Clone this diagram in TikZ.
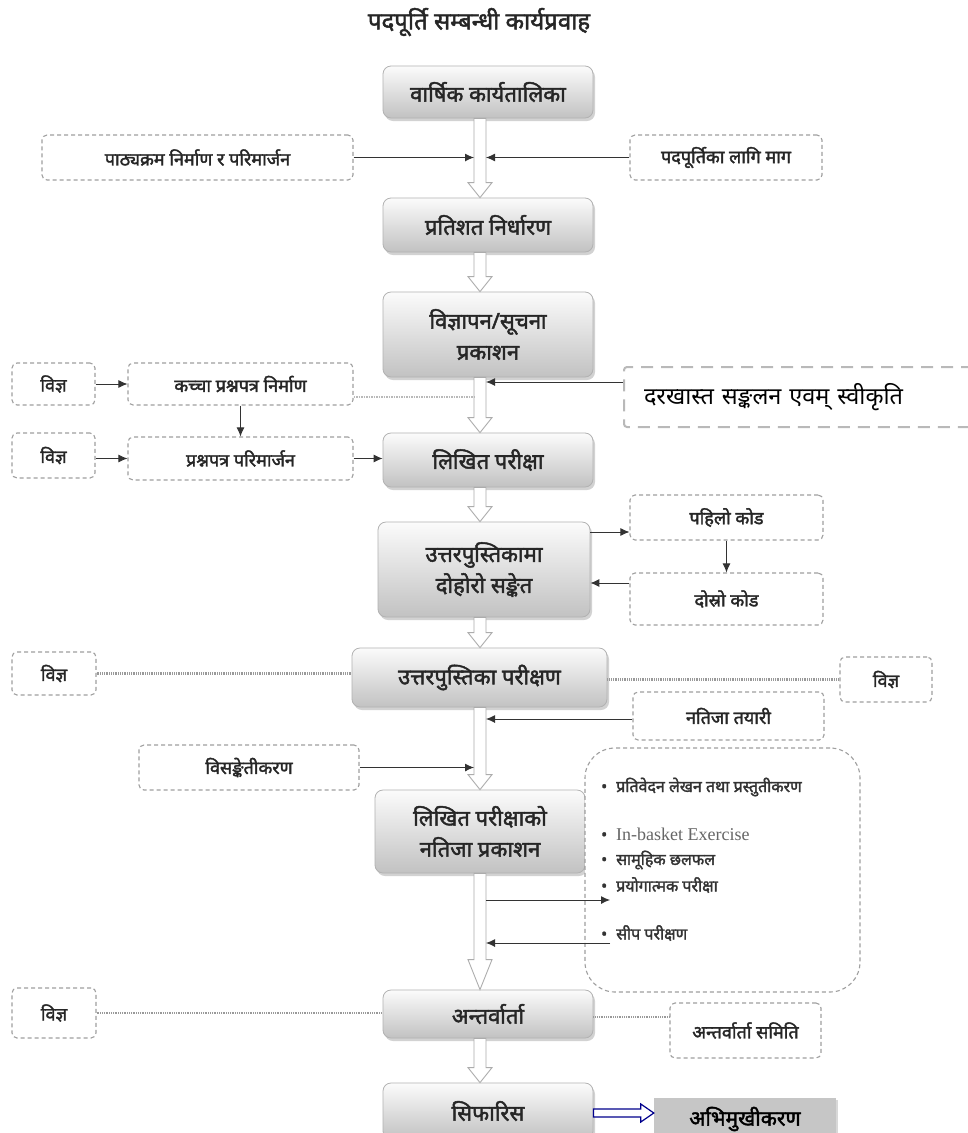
\documentclass[tikz,border=0pt]{standalone}
\usepackage{fontspec}
\newfontfamily\dev[Script=Devanagari]{Noto Sans}
\newfontfamily\devb[Script=Devanagari,FakeBold=2]{Noto Sans}
\newfontfamily\serifen{Liberation Serif}
\usetikzlibrary{arrows.meta,calc,shadows}
\newcommand\hollowarr[3][15pt]{%
  \path[hollow] let \p1=(#2), \p2=(#3) in
    (\x1-6pt,\y1) -- (\x1-6pt,\y2+#1) -- (\x1-12pt,\y2+#1) -- (\x1,\y2)
    -- (\x1+12pt,\y2+#1) -- (\x1+6pt,\y2+#1) -- (\x1+6pt,\y1) -- cycle;}
\newcommand\hollowh[2]{%
  \path[bluearr] let \p1=(#1), \p2=(#2) in
    (\x1,\y1+4pt) -- (\x2-13pt,\y1+4pt) -- (\x2-13pt,\y1+9pt) -- (\x2,\y1)
    -- (\x2-13pt,\y1-9pt) -- (\x2-13pt,\y1-4pt) -- (\x1,\y1-4pt) -- cycle;}
\begin{document}
\begin{tikzpicture}[x=1pt,y=-1pt,
 mainbox/.style={draw=gray!60, line width=0.8pt, rounded corners=8pt,
   top color=gray!3, bottom color=gray!48,
   drop shadow={shadow xshift=2pt,shadow yshift=-3pt,opacity=0.35},
   align=center, font=\devb\fontsize{22}{31}\selectfont, text=black!85, inner sep=0pt},
 dbox/.style={draw=gray!75, line width=1.1pt, dash pattern=on 4pt off 3pt, rounded corners=5pt,
   fill=white, align=center, font=\devb\fontsize{18}{21}\selectfont, text=black!85, inner sep=0pt},
 hollow/.style={draw=gray!65, line width=0.9pt, fill=white},
 bluearr/.style={draw=blue!55!black, line width=1.2pt, fill=white},
 arr/.style={-{Latex[length=9pt,width=8pt]}, line width=0.9pt, draw=black!80},
 dotl/.style={draw=gray!80, line width=2.6pt, dash pattern=on 1pt off 0.8pt},
 dotthin/.style={draw=gray!55, line width=1.5pt, dash pattern=on 1.5pt off 1pt},
 bul/.style={anchor=west, font=\devb\fontsize{16}{18}\selectfont, text=black!80, inner sep=0pt}
]
\useasboundingbox (0,0) rectangle (967,1133);
\fill[white] (0,0) rectangle (967,1133);

\coordinate (stem) at (480,0);
\coordinate (stemL) at (474,0);
\coordinate (stemR) at (486,0);

% title
\node[font=\devb\fontsize{24}{28}\selectfont, text=black!85] (title) at (479,22) {पदपूर्ति सम्बन्धी कार्यप्रवाह};

% main boxes
\node[mainbox, minimum width=210pt, minimum height=52pt] (b1) at (488,92) {वार्षिक कार्यतालिका};
\node[mainbox, minimum width=210pt, minimum height=54pt] (b2) at (488,225) {प्रतिशत निर्धारण};
\node[mainbox, minimum width=210pt, minimum height=85pt] (b3) at (488,334.5) {विज्ञापन/सूचना\\प्रकाशन};
\node[mainbox, minimum width=210pt, minimum height=54pt] (b4) at (488,460) {लिखित परीक्षा};
\node[mainbox, minimum width=212pt, minimum height=95pt] (b5) at (484,569.5) {उत्तरपुस्तिकामा\\दोहोरो सङ्केत};
\node[mainbox, minimum width=255pt, minimum height=59pt] (b6) at (479.5,677.5) {उत्तरपुस्तिका परीक्षण};
\node[mainbox, minimum width=210pt, minimum height=83pt] (b7) at (480,831.5) {लिखित परीक्षाको\\नतिजा प्रकाशन};
\node[mainbox, minimum width=210pt, minimum height=48pt] (b8) at (488,1014) {अन्तर्वार्ता};
\node[mainbox, minimum width=210pt, minimum height=56pt] (b9) at (488,1111) {सिफारिस};

% side boxes
\node[dbox, minimum width=311pt, minimum height=45pt] (pathya) at (197.5,157.5) {पाठ्यक्रम निर्माण र परिमार्जन};
\node[dbox, minimum width=192pt, minimum height=45pt] (mag) at (726,157.5) {पदपूर्तिका लागि माग};
\node[draw=gray!55, line width=2pt, dash pattern=on 12pt off 8pt, rounded corners=3pt, fill=white,
      anchor=west, minimum height=60pt, text width=312pt, inner xsep=20pt, inner ysep=0pt, align=left,
      font=\dev\fontsize{23.5}{27}\selectfont, text=black] (dar) at (623,397) {दरखास्त सङ्कलन एवम् स्वीकृति};
\node[dbox, minimum width=83pt, minimum height=42pt] (vij1) at (53.5,384) {विज्ञ};
\node[dbox, minimum width=225pt, minimum height=42pt] (kachcha) at (240.5,384) {कच्चा प्रश्नपत्र निर्माण};
\node[dbox, minimum width=83pt, minimum height=45pt] (vij2) at (53.5,455.5) {विज्ञ};
\node[dbox, minimum width=225pt, minimum height=43pt] (parimarjan) at (240.5,458.5) {प्रश्नपत्र परिमार्जन};
\node[dbox, minimum width=193pt, minimum height=45pt] (pahilo) at (726.5,517.5) {पहिलो कोड};
\node[dbox, minimum width=193pt, minimum height=52pt] (dosro) at (726.5,599) {दोस्रो कोड};
\node[dbox, minimum width=84pt, minimum height=43pt] (vij3) at (54,673.5) {विज्ञ};
\node[dbox, minimum width=92pt, minimum height=45pt] (vij4) at (886,679.5) {विज्ञ};
\node[dbox, minimum width=191pt, minimum height=48pt] (natija) at (728.5,716) {नतिजा तयारी};
\node[dbox, minimum width=220pt, minimum height=45pt] (visanket) at (249,767.5) {विसङ्केतीकरण};
\node[dbox, rounded corners=30pt, minimum width=275pt, minimum height=244pt] (bulbox) at (722.5,870) {};
\node[dbox, minimum width=84pt, minimum height=50pt] (vij5) at (54,1013) {विज्ञ};
\node[dbox, minimum width=151pt, minimum height=55pt] (samiti) at (745.5,1030.5) {अन्तर्वार्ता समिति};
\node[fill=gray!45, minimum width=182pt, minimum height=42pt, inner sep=0pt,
      drop shadow={shadow xshift=2pt,shadow yshift=-2pt,opacity=0.3},
      font=\devb\fontsize{21}{24}\selectfont, text=black] (abhimukh) at (745,1119) {अभिमुखीकरण};

% bullet items
\node[bul] (i1) at (601,787) {•\hspace{9pt}प्रतिवेदन लेखन तथा प्रस्तुतीकरण};
\node[bul] (i2) at (601,834) {•\hspace{9pt}{\serifen\fontsize{18}{20}\selectfont\color{black!60}In-basket Exercise}};
\node[bul] (i3) at (601,860) {•\hspace{9pt}सामूहिक छलफल};
\node[bul] (i4) at (601,885) {•\hspace{9pt}प्रयोगात्मक परीक्षा};
\node[bul] (i5) at (601,933) {•\hspace{9pt}सीप परीक्षण};

% hollow block arrows on the stem
\hollowarr{b1.south -| stem}{b2.north -| stem}
\hollowarr{b2.south -| stem}{b3.north -| stem}
\hollowarr{b3.south -| stem}{b4.north -| stem}
\hollowarr{b4.south -| stem}{b5.north -| stem}
\hollowarr{b5.south -| stem}{b6.north -| stem}
\hollowarr{b6.south -| stem}{b7.north -| stem}
\hollowarr[30pt]{b7.south -| stem}{b8.north -| stem}
\hollowarr{b8.south -| stem}{b9.north -| stem}

% connectors
\draw[arr] (pathya.east) -- (pathya.east -| stemL);
\draw[arr] (mag.west) -- (mag.west -| stemR);
\coordinate (darY) at (0,382);
\draw[arr] (dar.west |- darY) -- (stemR |- darY);
\draw[arr] (vij1.east) -- (kachcha.west);
\coordinate (kY) at (0,397);
\draw[dotthin] (kachcha.east |- kY) -- (stemL |- kY);
\draw[arr] (kachcha.south) -- (parimarjan.north);
\draw[arr] (vij2.east |- parimarjan.west) -- (parimarjan.west);
\draw[arr] (parimarjan.east) -- (b4.west |- parimarjan.east);
\coordinate (c1) at (0,532);
\draw[arr] (b5.east |- c1) -- (pahilo.west |- c1);
\draw[arr] (pahilo.south) -- (dosro.north);
\coordinate (c2) at (0,583);
\draw[arr] (dosro.west |- c2) -- (b5.east |- c2);
\draw[dotl] (vij3.east) -- (b6.west |- vij3.east);
\draw[dotl] (b6.east |- vij4.west) -- (vij4.west);
\coordinate (c3) at (0,719);
\draw[arr] (natija.west |- c3) -- (stemR |- c3);
\draw[arr] (visanket.east) -- (visanket.east -| stemL);
\coordinate (bin) at (610,900);
\coordinate (bout) at (610,943);
\draw[arr] (stemR |- bin) -- (bin);
\draw[arr] (bout) -- (stemR |- bout);
\draw[dotl] (vij5.east) -- (b8.west |- vij5.east);
\coordinate (c5) at (0,1017);
\draw[dotl] (b8.east |- c5) -- (samiti.west |- c5);
\coordinate (c6) at (0,1113);
\hollowh{b9.east |- c6}{abhimukh.west |- c6}
\end{tikzpicture}
\end{document}
